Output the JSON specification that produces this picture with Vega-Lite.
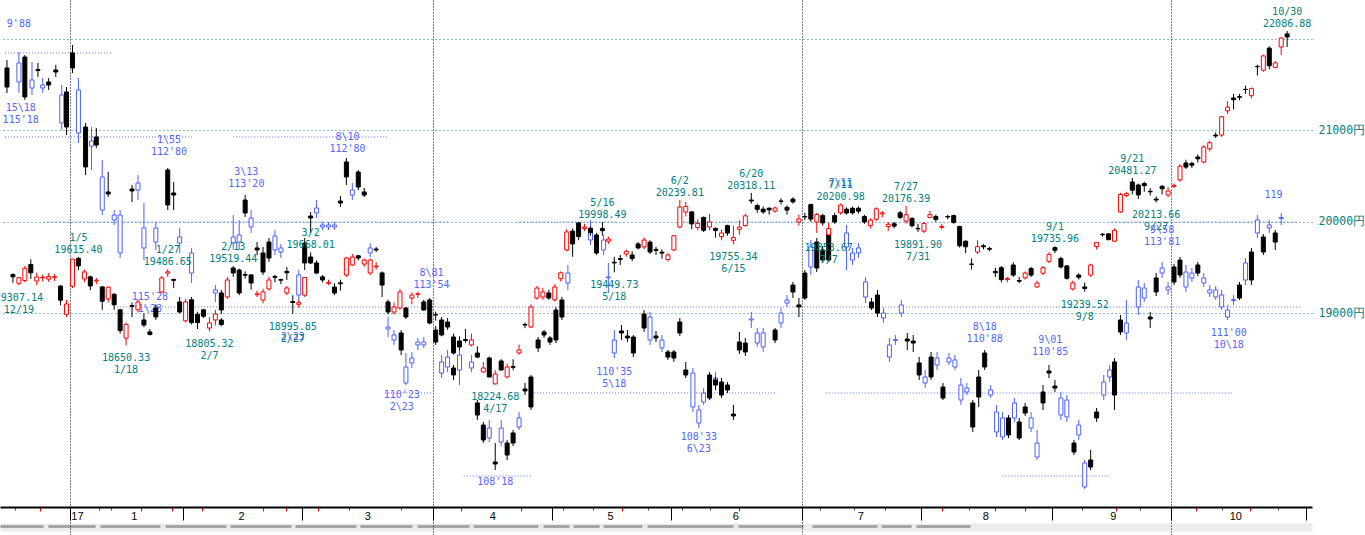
{
"$schema":"https://vega.github.io/schema/vega-lite/v6.json",
"width":1312,"height":507,
"autosize":{"type":"none"},
"padding":{"left":0,"top":0,"right":53,"bottom":28},
"background":"white",
"config":{"view":{"stroke":null}},
"resolve":{"axis":{"x":"independent","y":"independent"}},
"datasets":{
"candles":[
{"k":-10,"o":19425,"h":19439,"l":19335,"c":19401},{"k":-9,"o":19330,"h":19400,"l":19307.14,"c":19391},{"k":-8,"o":19360,"h":19520,"l":19340,"c":19494},{"k":-7,"o":19535,"h":19592,"l":19377,"c":19444},{"k":-6,"o":19355,"h":19445,"l":19310,"c":19399},{"k":-5,"o":19390,"h":19425,"l":19350,"c":19396},{"k":-4,"o":19375,"h":19440,"l":19345,"c":19403},{"k":-3,"o":19395,"h":19430,"l":19355,"c":19401},{"k":-2,"o":19300,"h":19310,"l":19090,"c":19145},{"k":-1,"o":18990,"h":19150,"l":18960,"c":19104},
{"k":0,"o":19298,"h":19594,"l":19277,"c":19594},{"k":1,"o":19602,"h":19615.4,"l":19473,"c":19520},{"k":2,"o":19377,"h":19480,"l":19340,"c":19454},{"k":3,"o":19400,"h":19414,"l":19255,"c":19301},{"k":4,"o":19355,"h":19390,"l":19320,"c":19364},{"k":5,"o":19290,"h":19300,"l":19040,"c":19134},{"k":6,"o":19158,"h":19295,"l":19120,"c":19287},{"k":7,"o":19210,"h":19220,"l":19040,"c":19095},{"k":8,"o":19040,"h":19050,"l":18780,"c":18813},{"k":9,"o":18730,"h":18900,"l":18650.33,"c":18880},{"k":10,"o":19085,"h":19120,"l":18960,"c":19077},{"k":11,"o":19040,"h":19150,"l":19010,"c":19126},{"k":12,"o":18929,"h":19000,"l":18850,"c":18874},{"k":13,"o":18798,"h":18830,"l":18760,"c":18770},{"k":14,"o":19060,"h":19100,"l":18930,"c":18962},{"k":15,"o":19235,"h":19410,"l":19220,"c":19388},{"k":16,"o":19440,"h":19486.65,"l":19400,"c":19455},{"k":17,"o":19372,"h":19380,"l":19280,"c":19362},{"k":18,"o":19126,"h":19180,"l":19000,"c":19016},
{"k":19,"o":18920,"h":19160,"l":18900,"c":19126},{"k":20,"o":19150,"h":19180,"l":18880,"c":18900},{"k":21,"o":18990,"h":19020,"l":18830,"c":18900},{"k":22,"o":19040,"h":19050,"l":18950,"c":18970},{"k":23,"o":18841,"h":18960,"l":18805.32,"c":18896},{"k":24,"o":18929,"h":19040,"l":18870,"c":18994},{"k":25,"o":18929,"h":18950,"l":18860,"c":18880},{"k":26,"o":19180,"h":19400,"l":19160,"c":19366},{"k":27,"o":19497,"h":19519.44,"l":19400,"c":19443},{"k":28,"o":19475,"h":19490,"l":19200,"c":19224},{"k":29,"o":19425,"h":19460,"l":19380,"c":19418},{"k":30,"o":19421,"h":19430,"l":19260,"c":19333},{"k":31,"o":19205,"h":19250,"l":19180,"c":19215},{"k":32,"o":19147,"h":19270,"l":19110,"c":19235},{"k":33,"o":19268,"h":19400,"l":19250,"c":19366},{"k":34,"o":19404,"h":19420,"l":19340,"c":19396},{"k":35,"o":19370,"h":19380,"l":19320,"c":19364},{"k":36,"o":19224,"h":19300,"l":19200,"c":19279},{"k":37,"o":19130,"h":19200,"l":18995.85,"c":19120},{"k":38,"o":19100,"h":19150,"l":19060,"c":19118},
{"k":39,"o":19200,"h":19400,"l":19180,"c":19393},{"k":40,"o":19617,"h":19668.01,"l":19540,"c":19552},{"k":41,"o":19552,"h":19580,"l":19430,"c":19442},{"k":42,"o":19400,"h":19420,"l":19340,"c":19366},{"k":43,"o":19330,"h":19370,"l":19310,"c":19340},{"k":44,"o":19289,"h":19330,"l":19200,"c":19224},{"k":45,"o":19335,"h":19370,"l":19250,"c":19325},{"k":46,"o":19420,"h":19620,"l":19400,"c":19606},{"k":47,"o":19530,"h":19650,"l":19520,"c":19617},{"k":48,"o":19630,"h":19640,"l":19580,"c":19606},{"k":49,"o":19540,"h":19600,"l":19510,"c":19584},{"k":50,"o":19442,"h":19600,"l":19420,"c":19584},{"k":51,"o":19510,"h":19560,"l":19480,"c":19518},{"k":52,"o":19443,"h":19460,"l":19180,"c":19311},{"k":53,"o":19126,"h":19150,"l":18990,"c":19016},{"k":54,"o":19016,"h":19120,"l":18990,"c":19071},{"k":55,"o":19060,"h":19270,"l":19040,"c":19235},{"k":56,"o":19060,"h":19070,"l":18940,"c":18962},{"k":57,"o":19169,"h":19230,"l":19100,"c":19202},{"k":58,"o":19208,"h":19240,"l":19170,"c":19215},{"k":59,"o":19126,"h":19150,"l":19030,"c":19038},{"k":60,"o":19147,"h":19170,"l":18880,"c":18896},
{"k":61,"o":18990,"h":19020,"l":18920,"c":18983},{"k":62,"o":18929,"h":18960,"l":18750,"c":18765},{"k":63,"o":18907,"h":18950,"l":18820,"c":18852},{"k":64,"o":18743,"h":18780,"l":18550,"c":18568},{"k":65,"o":18699,"h":18750,"l":18600,"c":18634},{"k":66,"o":18716,"h":18830,"l":18680,"c":18706},{"k":67,"o":18656,"h":18780,"l":18640,"c":18710},{"k":68,"o":18568,"h":18640,"l":18510,"c":18524},{"k":69,"o":18361,"h":18470,"l":18350,"c":18404},{"k":70,"o":18513,"h":18530,"l":18300,"c":18306},{"k":71,"o":18230,"h":18380,"l":18224.68,"c":18339},{"k":72,"o":18481,"h":18500,"l":18380,"c":18382},{"k":73,"o":18306,"h":18450,"l":18290,"c":18415},{"k":74,"o":18420,"h":18500,"l":18380,"c":18412},{"k":75,"o":18568,"h":18660,"l":18550,"c":18601},{"k":76,"o":18880,"h":18900,"l":18840,"c":18874},{"k":77,"o":18852,"h":19100,"l":18840,"c":19071},{"k":78,"o":19169,"h":19300,"l":19150,"c":19278},{"k":79,"o":19180,"h":19280,"l":19150,"c":19235},{"k":80,"o":19224,"h":19260,"l":19150,"c":19169},
{"k":81,"o":19150,"h":19320,"l":19130,"c":19289},{"k":82,"o":19380,"h":19460,"l":19350,"c":19445},{"k":83,"o":19694,"h":19920,"l":19680,"c":19891},{"k":84,"o":19900,"h":19930,"l":19620,"c":19760},{"k":85,"o":19990,"h":19995,"l":19800,"c":19840},{"k":86,"o":19930,"h":19980,"l":19900,"c":19945},{"k":87,"o":19930,"h":19950,"l":19850,"c":19883},{"k":88,"o":19858,"h":19880,"l":19640,"c":19661},{"k":89,"o":19930,"h":19998.49,"l":19850,"c":19905},{"k":90,"o":19790,"h":19840,"l":19760,"c":19814},{"k":91,"o":19560,"h":19620,"l":19449.73,"c":19553},{"k":92,"o":19600,"h":19640,"l":19530,"c":19590},{"k":93,"o":19650,"h":19700,"l":19620,"c":19678},{"k":94,"o":19639,"h":19680,"l":19570,"c":19600},{"k":95,"o":19760,"h":19780,"l":19700,"c":19716},{"k":96,"o":19727,"h":19830,"l":19700,"c":19803},{"k":97,"o":19780,"h":19800,"l":19650,"c":19672},{"k":98,"o":19700,"h":19730,"l":19640,"c":19690},{"k":99,"o":19670,"h":19700,"l":19600,"c":19660},{"k":100,"o":19590,"h":19660,"l":19570,"c":19640},
{"k":101,"o":19694,"h":19860,"l":19680,"c":19850},{"k":102,"o":19945,"h":20239.81,"l":19930,"c":20164},{"k":103,"o":20110,"h":20220,"l":20060,"c":20170},{"k":104,"o":20110,"h":20120,"l":19920,"c":19979},{"k":105,"o":19940,"h":20030,"l":19910,"c":19984},{"k":106,"o":20050,"h":20060,"l":19890,"c":19909},{"k":107,"o":19945,"h":20090,"l":19910,"c":20000},{"k":108,"o":19930,"h":19940,"l":19830,"c":19908},{"k":109,"o":19840,"h":19920,"l":19800,"c":19880},{"k":110,"o":19960,"h":19970,"l":19850,"c":19880},{"k":111,"o":19800,"h":19960,"l":19755.34,"c":19830},{"k":112,"o":19920,"h":20020,"l":19860,"c":19943},{"k":113,"o":19960,"h":20090,"l":19950,"c":20067},{"k":114,"o":20240,"h":20318.11,"l":20200,"c":20230},{"k":115,"o":20180,"h":20200,"l":20100,"c":20138},{"k":116,"o":20140,"h":20170,"l":20090,"c":20110},{"k":117,"o":20150,"h":20160,"l":20080,"c":20132},{"k":118,"o":20120,"h":20170,"l":20100,"c":20153},{"k":119,"o":20230,"h":20260,"l":20190,"c":20225},{"k":120,"o":20160,"h":20180,"l":20080,"c":20130},{"k":121,"o":20250,"h":20270,"l":20200,"c":20220},{"k":122,"o":20000,"h":20080,"l":19960,"c":20033},
{"k":123,"o":20060,"h":20100,"l":20020,"c":20055},{"k":124,"o":20190,"h":20200,"l":20000,"c":20032},{"k":125,"o":20000,"h":20100,"l":19880,"c":20081},{"k":126,"o":20070,"h":20090,"l":19960,"c":19990},{"k":127,"o":19860,"h":19990,"l":19853.6,"c":19929},{"k":128,"o":20070,"h":20100,"l":19980,"c":20000},{"k":129,"o":20100,"h":20200.98,"l":20080,"c":20186},{"k":130,"o":20140,"h":20160,"l":20080,"c":20098},{"k":131,"o":20150,"h":20170,"l":20080,"c":20099},{"k":132,"o":20150,"h":20170,"l":20090,"c":20118},{"k":133,"o":20060,"h":20080,"l":19980,"c":20000},{"k":134,"o":19960,"h":20040,"l":19930,"c":20020},{"k":135,"o":20030,"h":20160,"l":20010,"c":20144},{"k":136,"o":20090,"h":20120,"l":20050,"c":20099},{"k":137,"o":19950,"h":20000,"l":19900,"c":19975},{"k":138,"o":19980,"h":20000,"l":19930,"c":19955},{"k":139,"o":20100,"h":20120,"l":20030,"c":20050},{"k":140,"o":20010,"h":20176.39,"l":19980,"c":20079},{"k":141,"o":20040,"h":20050,"l":19940,"c":19959},{"k":142,"o":19930,"h":19980,"l":19891.9,"c":19925},
{"k":143,"o":19900,"h":20000,"l":19880,"c":19985},{"k":144,"o":20050,"h":20120,"l":20040,"c":20080},{"k":145,"o":20060,"h":20080,"l":20000,"c":20029},{"k":146,"o":19940,"h":19980,"l":19920,"c":19952},{"k":147,"o":20060,"h":20080,"l":20030,"c":20055},{"k":148,"o":20070,"h":20080,"l":19980,"c":19995},{"k":149,"o":19950,"h":19960,"l":19720,"c":19740},{"k":150,"o":19790,"h":19800,"l":19660,"c":19729},{"k":151,"o":19540,"h":19600,"l":19480,"c":19537},{"k":152,"o":19672,"h":19800,"l":19650,"c":19730},{"k":153,"o":19740,"h":19760,"l":19700,"c":19729},{"k":154,"o":19710,"h":19730,"l":19680,"c":19702},{"k":155,"o":19460,"h":19500,"l":19400,"c":19445},{"k":156,"o":19500,"h":19520,"l":19340,"c":19370},{"k":157,"o":19370,"h":19400,"l":19340,"c":19383},{"k":158,"o":19530,"h":19560,"l":19400,"c":19420},{"k":159,"o":19360,"h":19400,"l":19330,"c":19353},{"k":160,"o":19390,"h":19460,"l":19370,"c":19443},{"k":161,"o":19490,"h":19510,"l":19400,"c":19420},{"k":162,"o":19290,"h":19360,"l":19280,"c":19333},{"k":163,"o":19440,"h":19520,"l":19420,"c":19500},{"k":164,"o":19570,"h":19670,"l":19550,"c":19646},
{"k":165,"o":19720,"h":19735.96,"l":19660,"c":19691},{"k":166,"o":19600,"h":19620,"l":19490,"c":19508},{"k":167,"o":19520,"h":19530,"l":19370,"c":19385},{"k":168,"o":19268,"h":19360,"l":19250,"c":19335},{"k":169,"o":19420,"h":19440,"l":19370,"c":19396},{"k":170,"o":19290,"h":19340,"l":19239.52,"c":19274},{"k":171,"o":19420,"h":19545,"l":19400,"c":19530},{"k":172,"o":19730,"h":19780,"l":19700,"c":19776},{"k":173,"o":19866,"h":19880,"l":19840,"c":19860},{"k":174,"o":19870,"h":19880,"l":19800,"c":19807},{"k":175,"o":19790,"h":19930,"l":19780,"c":19909},{"k":176,"o":20110,"h":20320,"l":20100,"c":20300},{"k":177,"o":20290,"h":20330,"l":20270,"c":20310},{"k":178,"o":20437,"h":20481.27,"l":20300,"c":20347},{"k":179,"o":20404,"h":20420,"l":20250,"c":20296},{"k":180,"o":20420,"h":20440,"l":20330,"c":20397},{"k":181,"o":20335,"h":20370,"l":20290,"c":20330},{"k":182,"o":20250,"h":20280,"l":20213.66,"c":20240},{"k":183,"o":20390,"h":20400,"l":20300,"c":20363},{"k":184,"o":20295,"h":20380,"l":20270,"c":20339},
{"k":185,"o":20390,"h":20420,"l":20370,"c":20400},{"k":186,"o":20459,"h":20630,"l":20440,"c":20610},{"k":187,"o":20645,"h":20680,"l":20580,"c":20600},{"k":188,"o":20640,"h":20660,"l":20590,"c":20620},{"k":189,"o":20710,"h":20740,"l":20650,"c":20690},{"k":190,"o":20655,"h":20840,"l":20640,"c":20820},{"k":191,"o":20800,"h":20890,"l":20770,"c":20866},{"k":192,"o":20950,"h":20980,"l":20920,"c":20940},{"k":193,"o":20950,"h":21160,"l":20930,"c":21150},{"k":194,"o":21215,"h":21320,"l":21180,"c":21255},{"k":195,"o":21355,"h":21400,"l":21230,"c":21336},{"k":196,"o":21370,"h":21400,"l":21330,"c":21363},{"k":197,"o":21450,"h":21490,"l":21400,"c":21448},{"k":198,"o":21380,"h":21470,"l":21350,"c":21457},{"k":199,"o":21700,"h":21720,"l":21600,"c":21697},{"k":200,"o":21660,"h":21830,"l":21640,"c":21815},{"k":201,"o":21900,"h":21920,"l":21670,"c":21707},{"k":202,"o":21690,"h":21760,"l":21680,"c":21739},{"k":203,"o":21913,"h":22020,"l":21825,"c":22011},{"k":204,"o":22055,"h":22086.88,"l":21913,"c":22022}
],
"ghostBlack":[
{"k":-11,"o":21683,"c":21475,"h":21770,"l":21410},{"k":-8,"o":21803,"c":21366,"h":21825,"l":21333},{"k":-5.8,"o":21665,"c":21655,"h":21738,"l":21585},{"k":-4,"o":21530,"c":21497,"h":21574,"l":21442},{"k":-2.8,"o":21661,"c":21639,"h":21716,"l":21585},{"k":-1,"o":21421,"c":21038,"h":21475,"l":20951},{"k":0,"o":21847,"c":21683,"h":21934,"l":21628},{"k":2.2,"o":21038,"c":20601,"h":21082,"l":20513},{"k":4,"o":20929,"c":20841,"h":21027,"l":20809},{"k":6,"o":20328,"c":20306,"h":20546,"l":20273},{"k":10,"o":20360,"c":20339,"h":20404,"l":20218},{"k":16,"o":20568,"c":20186,"h":20590,"l":20131},{"k":17,"o":20317,"c":20295,"h":20437,"l":20131},{"k":25,"o":19224,"c":19038,"h":19257,"l":18994},{"k":29,"o":20240,"c":20098,"h":20295,"l":20054},{"k":31,"o":19716,"c":19694,"h":19781,"l":19639},{"k":32,"o":19661,"c":19453,"h":19727,"l":19421},{"k":33,"o":19781,"c":19606,"h":19825,"l":19563},{"k":36,"o":19460,"c":19445,"h":19508,"l":19366},{"k":39,"o":19770,"c":19552,"h":19825,"l":19475},{"k":40,"o":20065,"c":20043,"h":20109,"l":19880},{"k":45,"o":20229,"c":20207,"h":20284,"l":20164},{"k":46,"o":20656,"c":20492,"h":20699,"l":20404},{"k":48,"o":20546,"c":20382,"h":20568,"l":20349},{"k":49,"o":20328,"c":20295,"h":20371,"l":20273},{"k":51,"o":19705,"c":19694,"h":19727,"l":19672},{"k":55.2,"o":18787,"c":18601,"h":18819,"l":18546},{"k":61,"o":18819,"c":18688,"h":18863,"l":18656},{"k":64,"o":18404,"c":18328,"h":18437,"l":18273},{"k":68,"o":18022,"c":17890,"h":18054,"l":17836},{"k":69,"o":17781,"c":17617,"h":17814,"l":17584},{"k":71,"o":17377,"c":17355,"h":17584,"l":17289},{"k":73,"o":17584,"c":17453,"h":17617,"l":17399},{"k":74,"o":17694,"c":17584,"h":17727,"l":17552},{"k":76,"o":18175,"c":18153,"h":18240,"l":18109},{"k":77,"o":18306,"c":17978,"h":18328,"l":17945},{"k":78.2,"o":18710,"c":18623,"h":18743,"l":18579},{"k":79.2,"o":18798,"c":18765,"h":18819,"l":18732},{"k":80.2,"o":18732,"c":18688,"h":18754,"l":18656},{"k":81.2,"o":19038,"c":18710,"h":19071,"l":18677},{"k":82.2,"o":19147,"c":18961,"h":19180,"l":18929},{"k":92.2,"o":18809,"c":18787,"h":18874,"l":18710},{"k":93.2,"o":18754,"c":18732,"h":18819,"l":18688},{"k":94.2,"o":18743,"c":18568,"h":18765,"l":18524},{"k":96,"o":18994,"c":18841,"h":19038,"l":18798},{"k":98,"o":18754,"c":18732,"h":18809,"l":18688},{"k":100,"o":18579,"c":18524,"h":18601,"l":18492},{"k":101,"o":18579,"c":18513,"h":18601,"l":18470},{"k":102,"o":18907,"c":18787,"h":18951,"l":18754},{"k":103,"o":18382,"c":18328,"h":18470,"l":18295},{"k":107,"o":18328,"c":18076,"h":18360,"l":18054},{"k":108,"o":18273,"c":18218,"h":18306,"l":18164},{"k":109,"o":18251,"c":18109,"h":18295,"l":18076},{"k":110,"o":18218,"c":18164,"h":18251,"l":18131},{"k":111,"o":17901,"c":17880,"h":18000,"l":17836},{"k":112,"o":18688,"c":18601,"h":18798,"l":18557},{"k":113,"o":18677,"c":18579,"h":18732,"l":18535},{"k":118,"o":18819,"c":18710,"h":18841,"l":18677},{"k":121,"o":19311,"c":19235,"h":19344,"l":19169},{"k":122,"o":19093,"c":19071,"h":19169,"l":18961},{"k":123,"o":19442,"c":19169,"h":19475,"l":19147},{"k":125,"o":19781,"c":19497,"h":19825,"l":19453},{"k":126,"o":19694,"c":19584,"h":19738,"l":19552},{"k":127,"o":19891,"c":19584,"h":19923,"l":19563},{"k":134.2,"o":19125,"c":19060,"h":19169,"l":19038},{"k":135.2,"o":19202,"c":19005,"h":19257,"l":18961},{"k":140.2,"o":18721,"c":18699,"h":18787,"l":18601},{"k":141.2,"o":18699,"c":18677,"h":18765,"l":18579},{"k":142.2,"o":18459,"c":18328,"h":18524,"l":18273},{"k":144.2,"o":18524,"c":18306,"h":18579,"l":18273},{"k":146.2,"o":18196,"c":18076,"h":18240,"l":18054},{"k":151.2,"o":18022,"c":17759,"h":18054,"l":17705},{"k":152.2,"o":18306,"c":18087,"h":18382,"l":17978},{"k":153.2,"o":18568,"c":18415,"h":18601,"l":18382},{"k":157.2,"o":17858,"c":17672,"h":17890,"l":17639},{"k":159,"o":17814,"c":17639,"h":17858,"l":17617},{"k":160,"o":17978,"c":17912,"h":18022,"l":17880},{"k":163,"o":18142,"c":18022,"h":18218,"l":17945},{"k":164,"o":18371,"c":18349,"h":18437,"l":18295},{"k":165,"o":18207,"c":18185,"h":18273,"l":18142},{"k":168.2,"o":17584,"c":17486,"h":17617,"l":17453},{"k":171,"o":17399,"c":17322,"h":17508,"l":17289},{"k":172,"o":17923,"c":17858,"h":17967,"l":17814},{"k":175,"o":18470,"c":18109,"h":18513,"l":17945},{"k":176,"o":18929,"c":18798,"h":18983,"l":18765},{"k":181,"o":18961,"c":18940,"h":19016,"l":18841},{"k":182,"o":19388,"c":19235,"h":19442,"l":19191},{"k":185,"o":19508,"c":19344,"h":19541,"l":19311},{"k":186,"o":19584,"c":19421,"h":19617,"l":19388},{"k":189,"o":19530,"c":19442,"h":19563,"l":19410},{"k":196,"o":19311,"c":19169,"h":19344,"l":19147},{"k":198,"o":19672,"c":19366,"h":19716,"l":19311},{"k":200,"o":19836,"c":19672,"h":19868,"l":19639},{"k":202,"o":19880,"c":19781,"h":19913,"l":19694}
],
"ghostBlue":[
{"k":-9,"o":21738,"c":21530,"h":21858,"l":21410},{"k":-6.8,"o":21552,"c":21464,"h":21748,"l":21388},{"k":-5,"o":21497,"c":21464,"h":21574,"l":21410},{"k":-1.8,"o":21388,"c":21082,"h":21497,"l":21005},{"k":1,"o":21442,"c":20972,"h":21574,"l":20863},{"k":3.2,"o":20885,"c":20830,"h":21038,"l":20568},{"k":5,"o":20492,"c":20131,"h":20677,"l":20076},{"k":7,"o":20076,"c":20022,"h":20131,"l":19967},{"k":8,"o":20076,"c":19661,"h":20131,"l":19606},{"k":11,"o":20426,"c":20349,"h":20513,"l":20240},{"k":12,"o":19934,"c":19716,"h":20207,"l":19584},{"k":14,"o":19934,"c":19781,"h":20000,"l":19694},{"k":18,"o":19836,"c":19770,"h":19934,"l":19661},{"k":20,"o":19661,"c":19442,"h":19716,"l":19333},{"k":24,"o":19257,"c":19224,"h":19311,"l":19125},{"k":27,"o":19836,"c":19770,"h":20076,"l":19694},{"k":28,"o":19858,"c":19781,"h":20022,"l":19694},{"k":30,"o":20043,"c":19945,"h":20131,"l":19880},{"k":34,"o":19847,"c":19694,"h":19912,"l":19639},{"k":35,"o":19716,"c":19672,"h":19760,"l":19606},{"k":38,"o":19421,"c":19202,"h":19475,"l":19147},{"k":41,"o":20153,"c":20098,"h":20240,"l":20043},{"k":42,"o":19967,"c":19945,"h":20000,"l":19912},{"k":43,"o":19967,"c":19945,"h":20000,"l":19912},{"k":44,"o":19967,"c":19945,"h":20000,"l":19912},{"k":47,"o":20349,"c":20295,"h":20426,"l":20240},{"k":50,"o":19716,"c":19661,"h":19770,"l":19617},{"k":53,"o":18852,"c":18830,"h":18961,"l":18743},{"k":54,"o":18765,"c":18710,"h":18819,"l":18656},{"k":56,"o":18415,"c":18240,"h":18568,"l":18218},{"k":57,"o":18513,"c":18459,"h":18579,"l":18404},{"k":58,"o":18688,"c":18656,"h":18732,"l":18601},{"k":59,"o":18688,"c":18656,"h":18743,"l":18623},{"k":62,"o":18470,"c":18349,"h":18546,"l":18295},{"k":63,"o":18524,"c":18415,"h":18601,"l":18360},{"k":65,"o":18546,"c":18382,"h":18656,"l":18218},{"k":67,"o":18470,"c":18404,"h":18546,"l":18360},{"k":70,"o":17748,"c":17639,"h":17836,"l":17595},{"k":72,"o":17748,"c":17595,"h":17836,"l":17552},{"k":75,"o":17858,"c":17759,"h":17923,"l":17727},{"k":83.2,"o":19442,"c":19333,"h":19530,"l":19257},{"k":87,"o":19934,"c":19803,"h":20022,"l":19749},{"k":89.2,"o":19803,"c":19694,"h":19858,"l":19639},{"k":90,"o":19400,"c":19390,"h":19552,"l":19224},{"k":91,"o":18710,"c":18568,"h":18819,"l":18513},{"k":97,"o":18961,"c":18710,"h":19016,"l":18656},{"k":99,"o":18710,"c":18623,"h":18765,"l":18579},{"k":104.2,"o":18349,"c":17978,"h":18404,"l":17923},{"k":105.2,"o":17945,"c":17803,"h":18000,"l":17748},{"k":106,"o":18131,"c":18033,"h":18185,"l":18000},{"k":108,"o":18295,"c":18240,"h":18360,"l":18185},{"k":114,"o":18940,"c":18929,"h":19016,"l":18841},{"k":115,"o":18787,"c":18677,"h":18841,"l":18634},{"k":116,"o":18787,"c":18634,"h":18841,"l":18579},{"k":119,"o":19005,"c":18896,"h":19060,"l":18841},{"k":120,"o":19147,"c":19114,"h":19202,"l":19071},{"k":124,"o":19727,"c":19508,"h":19803,"l":19421},{"k":130,"o":19880,"c":19727,"h":19967,"l":19475},{"k":131,"o":19661,"c":19584,"h":19716,"l":19530},{"k":132,"o":19716,"c":19661,"h":19770,"l":19606},{"k":133.2,"o":19344,"c":19180,"h":19399,"l":19114},{"k":136.2,"o":19005,"c":18951,"h":19060,"l":18896},{"k":137.2,"o":18656,"c":18524,"h":18732,"l":18470},{"k":138.2,"o":18715,"c":18705,"h":18765,"l":18656},{"k":139.2,"o":19093,"c":19005,"h":19147,"l":18961},{"k":143.2,"o":18306,"c":18240,"h":18382,"l":18185},{"k":145.2,"o":18513,"c":18437,"h":18579,"l":18382},{"k":147.2,"o":18513,"c":18470,"h":18568,"l":18437},{"k":148.2,"o":18492,"c":18415,"h":18546,"l":18382},{"k":149.2,"o":18218,"c":18054,"h":18295,"l":18000},{"k":150.2,"o":18185,"c":18142,"h":18240,"l":18109},{"k":154.2,"o":18164,"c":18109,"h":18218,"l":18076},{"k":155.2,"o":17923,"c":17705,"h":18000,"l":17650},{"k":156.2,"o":17858,"c":17650,"h":17923,"l":17617},{"k":158.2,"o":18022,"c":17858,"h":18076,"l":17814},{"k":161,"o":17858,"c":17748,"h":17923,"l":17705},{"k":162,"o":17584,"c":17431,"h":17727,"l":17399},{"k":166,"o":18076,"c":17890,"h":18142,"l":17836},{"k":167,"o":18054,"c":17869,"h":18109,"l":17814},{"k":169,"o":17781,"c":17672,"h":17836,"l":17617},{"k":170,"o":17366,"c":17104,"h":17399,"l":17082},{"k":173.2,"o":18251,"c":18109,"h":18328,"l":18054},{"k":174.2,"o":18382,"c":18306,"h":18437,"l":18251},{"k":177,"o":18896,"c":18787,"h":19147,"l":18710},{"k":179,"o":19289,"c":19071,"h":19366,"l":18983},{"k":180,"o":19278,"c":19169,"h":19333,"l":19125},{"k":183,"o":19497,"c":19442,"h":19563,"l":19388},{"k":184,"o":19289,"c":19257,"h":19344,"l":19202},{"k":187,"o":19453,"c":19289,"h":19530,"l":19235},{"k":188,"o":19442,"c":19388,"h":19497,"l":19344},{"k":190,"o":19388,"c":19333,"h":19442,"l":19289},{"k":191,"o":19257,"c":19224,"h":19311,"l":19180},{"k":192,"o":19257,"c":19180,"h":19300,"l":19147},{"k":193,"o":19202,"c":19071,"h":19257,"l":19038},{"k":194,"o":19038,"c":18961,"h":19093,"l":18929},{"k":195,"o":19152,"c":19142,"h":19202,"l":19093},{"k":197,"o":19552,"c":19366,"h":19606,"l":19311},{"k":199,"o":20022,"c":19880,"h":20076,"l":19825},{"k":201,"o":19967,"c":19934,"h":20022,"l":19880},{"k":203,"o":20048,"c":20038,"h":20098,"l":19967}
],
"ghostLines":[
{"p":21847,"a":-11.33,"b":6.5},{"p":20929,"a":-11.33,"b":20.3},{"p":20929,"a":27,"b":53.2},{"p":20000,"a":-4.7,"b":63.2},{"p":20000,"a":74.8,"b":91.5},{"p":20000,"a":102,"b":122.5},{"p":20000,"a":174.2,"b":205.8},{"p":19071,"a":7.5,"b":206.5},{"p":18131,"a":52.5,"b":60.3},{"p":18131,"a":77.5,"b":118.3},{"p":18131,"a":126.5,"b":194.8},{"p":17224,"a":65.7,"b":77.3},{"p":17224,"a":156.2,"b":174}
],
"ghostText":[
{"k":-9,"p":22164,"t":"9'88"},{"k":-8.7,"p":21246,"t":"15\\18\n115'18"},{"k":16.2,"p":20896,"t":"1\\55\n112'80"},{"k":29.2,"p":20546,"t":"3\\13\n113'20"},{"k":13,"p":19180,"t":"115'28\n1\\28"},{"k":37,"p":18743,"t":"2\\23"},{"k":46.2,"p":20929,"t":"8\\10\n112'80"},{"k":60.3,"p":19442,"t":"8\\81\n113'54"},{"k":55.3,"p":18109,"t":"110'23\n2\\23"},{"k":71,"p":17158,"t":"108'18"},{"k":91,"p":18360,"t":"110'35\n5\\18"},{"k":105.2,"p":17650,"t":"108'33\n6\\23"},{"k":129,"p":20426,"t":"7\\11"},{"k":153.2,"p":18852,"t":"8\\18\n110'88"},{"k":164.2,"p":18710,"t":"9\\01\n110'85"},{"k":183,"p":19912,"t":"9\\58\n113'81"},{"k":194.2,"p":18787,"t":"111'00\n10\\18"},{"k":201.7,"p":20295,"t":"119"}
],
"highs":[
{"k":1,"p":19615.4,"t":"1/5\n19615.40"},{"k":16,"p":19486.65,"t":"1/27\n19486.65"},{"k":27,"p":19519.44,"t":"2/13\n19519.44"},{"k":40,"p":19668.01,"t":"3/2\n19668.01"},{"k":89,"p":19998.49,"t":"5/16\n19998.49"},{"k":102,"p":20239.81,"t":"6/2\n20239.81"},{"k":114,"p":20318.11,"t":"6/20\n20318.11"},{"k":129,"p":20200.98,"t":"7/11\n20200.98"},{"k":140,"p":20176.39,"t":"7/27\n20176.39"},{"k":165,"p":19735.96,"t":"9/1\n19735.96"},{"k":178,"p":20481.27,"t":"9/21\n20481.27"},{"k":204,"p":22086.88,"t":"10/30\n22086.88"}
],
"lows":[
{"k":-9,"p":19307.14,"t":"19307.14\n12/19"},{"k":9,"p":18650.33,"t":"18650.33\n1/18"},{"k":23,"p":18805.32,"t":"18805.32\n2/7"},{"k":37,"p":18995.85,"t":"18995.85\n2/27"},{"k":71,"p":18224.68,"t":"18224.68\n4/17"},{"k":91,"p":19449.73,"t":"19449.73\n5/18"},{"k":111,"p":19755.34,"t":"19755.34\n6/15"},{"k":127,"p":19853.6,"t":"19853.67\n7/7"},{"k":142,"p":19891.9,"t":"19891.90\n7/31"},{"k":170,"p":19239.52,"t":"19239.52\n9/8"},{"k":182,"p":20213.66,"t":"20213.66\n9/27"}
]
},
"layer":[
{"data":{"name":"ghostLines"},"mark":{"type":"rule","stroke":"#5b6dff","strokeDash":[1,2],"strokeWidth":1},
 "encoding":{"x":{"field":"a","type":"quantitative","scale":{"domain":[-11.333,207.333],"nice":false,"zero":false},
   "axis":{"orient":"bottom","title":null,"values":[],"labels":false,"ticks":false,"grid":false,"domain":true,"domainColor":"#ececec","domainWidth":8,"offset":20}},"x2":{"field":"b"},
 "y":{"field":"p","type":"quantitative","scale":{"domain":[16885,22426],"nice":false,"zero":false},
   "axis":{"orient":"right","title":null,"values":[19000,20000,21000,22000],"grid":true,"gridColor":"#008080","gridDash":[1,3],"gridWidth":1,"domain":false,"ticks":false,"labelColor":"#008080","labelFont":"DejaVu Sans Mono","labelFontSize":11.5,"labelPadding":6,"labelBaseline":"middle","labelExpr":"datum.value >= 22000 ? '' : datum.value + '円'"}}}},
{"data":{"name":"ghostBlue"},"mark":{"type":"rule","stroke":"#4d60ff","strokeWidth":1},
 "encoding":{"x":{"field":"k","type":"quantitative","scale":{"domain":[-11.333,207.333],"nice":false,"zero":false},
   "axis":{"orient":"bottom","title":null,"values":[],"labels":false,"ticks":false,"grid":false,"domain":true,"domainColor":"#a6a6a6","domainWidth":3,"offset":19,"domainDash":[43,5,47,5,60,5,61,4,61,4,61,4,52,5,52,4,65,5,26,4,26,4,39,5,86,5,65,9,65,4,30,5,54,1000]}},
 "y":{"field":"l","type":"quantitative","scale":{"domain":[16885,22426],"nice":false,"zero":false},"axis":null},"y2":{"field":"h"}}},
{"data":{"name":"ghostBlue"},"mark":{"type":"bar","width":4,"fill":"#ffffff","stroke":"#4d60ff","strokeWidth":1,"orient":"vertical"},
 "encoding":{"x":{"field":"k","type":"quantitative","scale":{"domain":[-11.333,207.333],"nice":false,"zero":false},
   "axis":{"orient":"bottom","title":null,"values":[-5.5,11.5,16.7,21.7,32,35.8,41.2,65.2,75.3,92.3,112,146,155,160,175.3,188.7,197.7],"labels":false,"domain":false,"grid":false,"ticks":true,"tickColor":"#ff0000","tickSize":4,"tickWidth":1,"tickOffset":0}},
 "y":{"field":"o","type":"quantitative","scale":{"domain":[16885,22426],"nice":false,"zero":false},"axis":null},"y2":{"field":"c"}}},
{"data":{"name":"ghostText"},"mark":{"type":"text","font":"DejaVu Sans Mono","fontSize":10,"fill":"#5566ff","align":"center","baseline":"middle","lineBreak":"\n","lineHeight":12},
 "encoding":{"x":{"field":"k","type":"quantitative","scale":{"domain":[-11.333,207.333],"nice":false,"zero":false},
   "axis":{"orient":"bottom","title":null,"values":[-9.7,4.5,6.5,46.5,55.2,82.3,87.5,96.7,102.3,107,125.5,131.2,136.5,150.5,169.5,179.3,193,202.5],"labels":false,"domain":false,"grid":false,"ticks":true,"tickColor":"#555555","tickSize":3,"tickWidth":1,"tickOffset":0}},
 "y":{"field":"p","type":"quantitative","scale":{"domain":[16885,22426],"nice":false,"zero":false},"axis":null},
 "text":{"field":"t"}}},
{"data":{"name":"ghostBlack"},"mark":{"type":"rule","stroke":"#000000","strokeWidth":1},
 "encoding":{"x":{"field":"k","type":"quantitative","scale":{"domain":[-11.333,207.333],"nice":false,"zero":false},"axis":null},
 "y":{"field":"l","type":"quantitative","scale":{"domain":[16885,22426],"nice":false,"zero":false},"axis":null},"y2":{"field":"h"}}},
{"data":{"name":"ghostBlack"},"mark":{"type":"bar","width":4,"fill":"#000000","stroke":"#000000","strokeWidth":1,"orient":"vertical"},
 "encoding":{"x":{"field":"k","type":"quantitative","scale":{"domain":[-11.333,207.333],"nice":false,"zero":false},"axis":null},
 "y":{"field":"o","type":"quantitative","scale":{"domain":[16885,22426],"nice":false,"zero":false},"axis":null},"y2":{"field":"c"}}},
{"data":{"name":"candles"},"mark":{"type":"rule","strokeWidth":1},
 "encoding":{"x":{"field":"k","type":"quantitative","scale":{"domain":[-11.333,207.333],"nice":false,"zero":false},
   "axis":{"orient":"bottom","title":null,"values":[-0.5,18.5,38.5,60.5,80.5,100.5,122.5,142.5,164.5,184.5,207.2],"labels":false,"grid":false,"domain":true,"domainColor":"#000000","domainWidth":2,"ticks":true,"tickColor":"#000000","tickSize":13,"tickWidth":1}},
 "y":{"field":"l","type":"quantitative","scale":{"domain":[16885,22426],"nice":false,"zero":false},"axis":null},
 "y2":{"field":"h"},
 "color":{"condition":{"test":"datum.c >= datum.o","value":"#ff0000"},"value":"#000000"}}},
{"data":{"name":"candles"},"mark":{"type":"bar","width":4,"strokeWidth":1,"orient":"vertical"},
 "encoding":{"x":{"field":"k","type":"quantitative","scale":{"domain":[-11.333,207.333],"nice":false,"zero":false},
   "axis":{"orient":"bottom","title":null,"values":[-0.5,60.5,122.5,184.5],"labels":false,"domain":false,"grid":true,"gridColor":"#000000","gridDash":[1,2],"gridWidth":1,"ticks":true,"tickColor":"#000000","tickDash":[1,2],"tickSize":28}},
 "y":{"field":"o","type":"quantitative","scale":{"domain":[16885,22426],"nice":false,"zero":false},"axis":null},"y2":{"field":"c"},
 "fill":{"condition":{"test":"datum.c >= datum.o","value":"#ffffff"},"value":"#000000"},
 "stroke":{"condition":{"test":"datum.c >= datum.o","value":"#ff0000"},"value":"#000000"}}},
{"data":{"name":"highs"},"mark":{"type":"text","font":"DejaVu Sans Mono","fontSize":10,"fill":"#008080","align":"center","baseline":"bottom","dy":-14,"lineBreak":"\n","lineHeight":12},
 "encoding":{"x":{"field":"k","type":"quantitative","scale":{"domain":[-11.333,207.333],"nice":false,"zero":false},
   "axis":{"orient":"bottom","title":null,"values":[0.75,10.3,28.3,49.5,70.5,90.3,111.3,132.3,153.3,174.7,195.3],"ticks":false,"domain":false,"grid":false,"labelFont":"Liberation Sans","labelFontSize":11,"labelColor":"#000000","labelPadding":3,"labelFlush":false,"labelOverlap":false,"labelBound":false,
   "labelExpr":"datum.value < 5 ? '17' : datum.value < 20 ? '1' : datum.value < 40 ? '2' : datum.value < 60 ? '3' : datum.value < 80 ? '4' : datum.value < 100 ? '5' : datum.value < 120 ? '6' : datum.value < 140 ? '7' : datum.value < 160 ? '8' : datum.value < 180 ? '9' : '10'"}},
 "y":{"field":"p","type":"quantitative","scale":{"domain":[16885,22426],"nice":false,"zero":false},"axis":null},
 "text":{"field":"t"}}},
{"data":{"name":"lows"},"mark":{"type":"text","font":"DejaVu Sans Mono","fontSize":10,"fill":"#008080","align":"center","baseline":"top","dy":8,"lineBreak":"\n","lineHeight":12},
 "encoding":{"x":{"field":"k","type":"quantitative","scale":{"domain":[-11.333,207.333],"nice":false,"zero":false},"axis":null},
 "y":{"field":"p","type":"quantitative","scale":{"domain":[16885,22426],"nice":false,"zero":false},"axis":null},
 "text":{"field":"t"}}}
]
}
